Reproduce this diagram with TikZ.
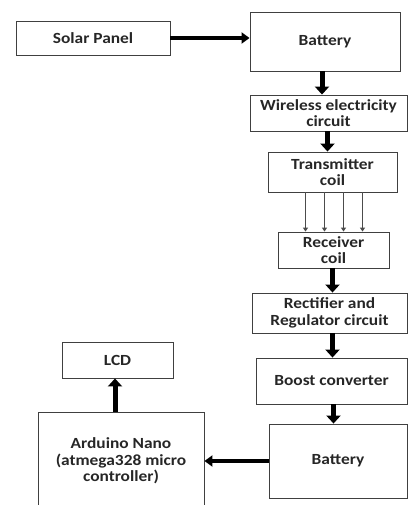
\documentclass[tikz,border=0pt]{standalone}
\usepackage{fontspec}
\setmainfont{Carlito}[FakeStretch=1.12]
\usetikzlibrary{arrows.meta}
\tikzset{
  blk/.style={draw=black!75, line width=0.9pt, align=center, inner sep=0pt,
    font=\fontsize{15.5}{16.5}\selectfont\bfseries, text=black!85},
  bigarrow/.style={line width=5pt, -{Triangle[width=14pt,length=8pt]}, black},
  harrow/.style={line width=4pt, -{Triangle[width=11pt,length=8pt]}, black},
  thinarrow/.style={line width=1pt, black!70, -{Triangle[width=5pt,length=4pt]}}
}
\begin{document}
\begin{tikzpicture}[x=1pt,y=-1pt]
\useasboundingbox (0,0) rectangle (409,505);
\clip (0,0) rectangle (409,505);
\node[blk, minimum width=154pt, minimum height=34pt] (solar) at (93,38) {Solar Panel};
\node[blk, minimum width=150pt, minimum height=59pt] (bat1) at (325,41.5) {Battery};
\node[blk, minimum width=157pt, minimum height=36pt] (wire) at (328.5,113) {Wireless electricity\\circuit};
\node[blk, minimum width=129pt, minimum height=40pt] (trans) at (332.5,172) {Transmitter\\coil};
\node[blk, minimum width=111pt, minimum height=36pt] (recv) at (333.5,250) {Receiver\\coil};
\node[blk, minimum width=155pt, minimum height=40pt] (rect) at (329.5,313) {Rectifier and\\Regulator circuit};
\node[blk, minimum width=151pt, minimum height=46pt] (boost) at (331.5,381) {Boost converter};
\node[blk, minimum width=138pt, minimum height=74pt] (bat2) at (338,461) {Battery};
\node[blk, minimum width=166pt, minimum height=98pt] (ard) at (121,461) {Arduino Nano\\(atmega328 micro\\controller)};
\node[blk, minimum width=111pt, minimum height=36pt] (lcd) at (117.5,360) {LCD};

\draw[harrow] (solar.east) -- (solar.east -| bat1.west);
\draw[bigarrow] ([xshift=-3pt]bat1.south) -- ([xshift=-3pt]bat1.south |- wire.north);
\draw[bigarrow] ([xshift=-1pt]wire.south) -- ([xshift=-1pt]wire.south |- trans.north);
\foreach \dx in {-28.5,-9.5,9.5,28.5}
  \draw[thinarrow] ([xshift=\dx pt+1.5pt]trans.south) -- ([xshift=\dx pt+1.5pt]trans.south |- recv.north);
\draw[bigarrow] ([xshift=-1pt]recv.south) -- ([xshift=-1pt]recv.south |- rect.north);
\draw[bigarrow] ([xshift=3pt]rect.south) -- ([xshift=3pt]rect.south |- boost.north);
\draw[bigarrow] ([xshift=2pt]boost.south) -- ([xshift=2pt]boost.south |- bat2.north);
\draw[harrow] (bat2.west) -- (ard.east);
\draw[bigarrow] ([xshift=-2.5pt]lcd.south |- ard.north) -- ([xshift=-2.5pt]lcd.south);
\end{tikzpicture}
\end{document}
